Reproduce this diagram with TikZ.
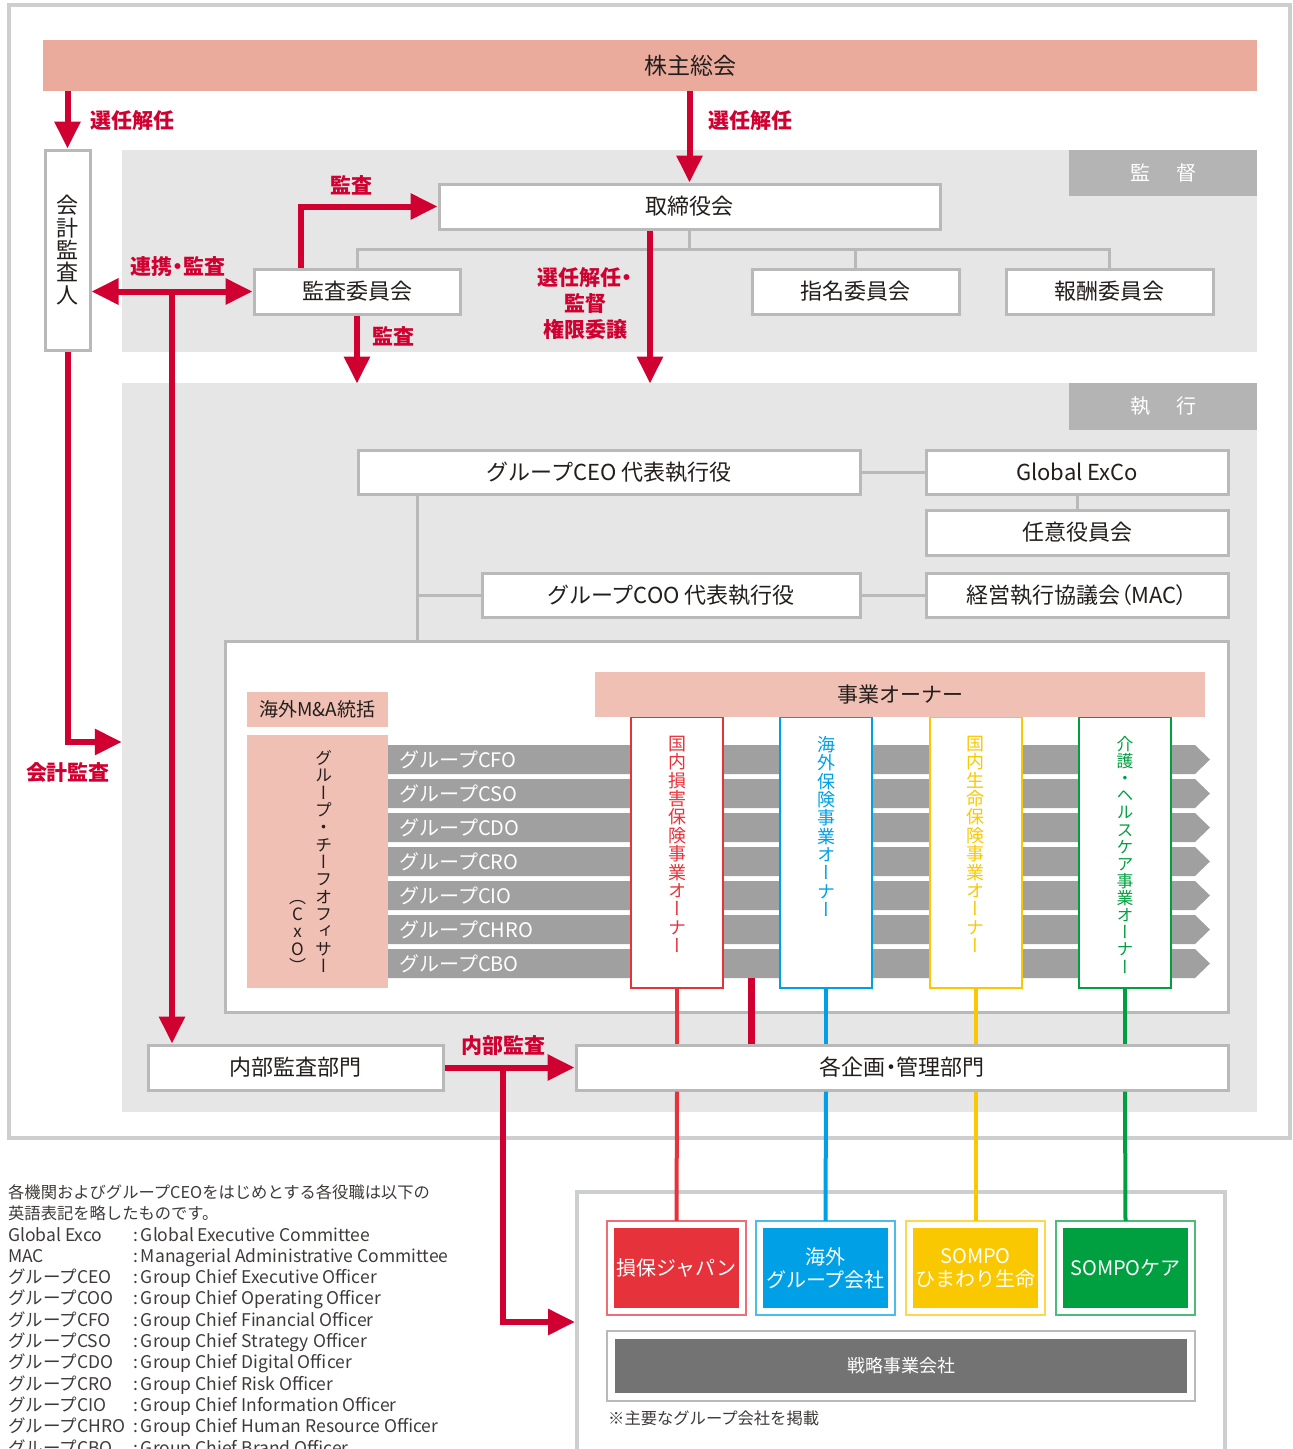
\documentclass[tikz,border=0pt]{standalone}
\usepackage{fontspec}
\setmainfont{Noto Sans CJK JP}
\newfontfamily\vfont[RawFeature=+vert]{Noto Sans CJK JP}
\newfontfamily\pfont[RawFeature=+palt]{Noto Sans CJK JP}
\usetikzlibrary{arrows.meta}

\definecolor{ared}{RGB}{208,0,48}
\definecolor{gmsalmon}{RGB}{234,171,157}
\definecolor{pinkfill}{RGB}{240,192,181}
\definecolor{regiongray}{RGB}{230,230,230}
\definecolor{tabgray}{RGB}{180,180,180}
\definecolor{boxgray}{RGB}{185,185,185}
\definecolor{framegray}{RGB}{205,206,207}
\definecolor{bargray}{RGB}{160,160,160}
\definecolor{stratgray}{RGB}{115,115,115}
\definecolor{ored}{RGB}{230,50,58}
\definecolor{oblue}{RGB}{0,160,230}
\definecolor{oyellow}{RGB}{250,200,0}
\definecolor{ogreen}{RGB}{0,160,64}
\definecolor{textgray}{RGB}{35,30,28}
\definecolor{notegray}{RGB}{62,58,57}

% vertical (tategaki) stack of characters
\makeatletter
\def\vst@end{\vst@end}
\def\vst@ck#1{\ifx#1\vst@end\else\hbox to 1em{\hss#1\hss}\expandafter\vst@ck\fi}
\newcommand\vstack[1]{\vbox{\vfont\baselineskip=1.02em\lineskiplimit=-2em\lineskip=0pt\vst@ck#1\vst@end}}
\makeatother

\tikzset{
  box/.style={draw=boxgray, line width=3pt, fill=white, inner sep=0pt, text=textgray, font=\fontsize{22}{26}\selectfont},
  region/.style={fill=regiongray, inner sep=0pt},
  tab/.style={fill=tabgray, inner sep=0pt, text=white, minimum width=188pt, font=\fontsize{20}{24}\selectfont},
  tree/.style={draw=boxgray, line width=3pt},
  redarrow/.style={draw=ared, line width=6pt, ->},
  redlbl/.style={text=ared, inner sep=0pt, align=center, font=\fontsize{21}{26}\selectfont\pfont\bfseries},
  pinkbox/.style={fill=pinkfill, inner sep=0pt, text=textgray},
  owner/.style={draw=#1, line width=2pt, fill=white, minimum width=92pt, minimum height=271pt, inner sep=0pt},
  ownlbl/.style={text=#1, inner sep=0pt, anchor=north, font=\fontsize{18}{18}\selectfont},
  ownline/.style={draw=#1, line width=4pt},
  bartext/.style={text=white, inner sep=0pt, anchor=west, font=\fontsize{20}{24}\selectfont},
  comp/.style={fill=#1, text=white, minimum width=125pt, minimum height=80pt, inner sep=0pt, align=center, font=\fontsize{20}{23}\selectfont},
  note/.style={text=notegray, inner sep=0pt, anchor=base west, font=\fontsize{16.3}{21}\selectfont},
  notetab/.style={note, font=\fontsize{17.5}{21}\selectfont},
}

\begin{document}
\begin{tikzpicture}[x=1pt, y=-1pt, >={Triangle[length=27pt,width=25pt]}]
        \useasboundingbox (0,0) rectangle (1293,1449);

        % ==== OUTER FRAME ====
        \draw[framegray, line width=4pt] (9,5) rectangle (1290,1138);

        % ==== GENERAL MEETING ====
        \node[fill=gmsalmon, minimum width=1214pt, minimum height=51pt, inner sep=0pt, text=textgray, font=\fontsize{23}{26}\selectfont] (gm) at (650,65.5) {\hspace*{80pt}株主総会};

        % ==== SUPERVISION ====
        \node[region, minimum width=1135pt, minimum height=202pt] (sup) at (689.5,251) {};
        \node[tab, minimum height=46pt] (suptab) at (1163,173) {監\hspace{26pt}督};
        \node[box, minimum width=501pt, minimum height=45pt] (board) at (689.5,206.5) {取締役会};
        \node[box, minimum width=206pt, minimum height=45pt] (acom) at (357,291.5) {監査委員会};
        \node[box, minimum width=207pt, minimum height=45pt] (ncom) at (855.5,291.5) {指名委員会};
        \node[box, minimum width=207pt, minimum height=45pt] (rcom) at (1109.5,291.5) {報酬委員会};
        \node[box, minimum width=45pt, minimum height=200pt] (aud) at (67.5,250) {\vstack{会計監査人}};

        \coordinate (tj) at (689.5,249);
        \draw[tree] (board.south) -- (tj);
        \draw[tree] (acom.north) |- (tj) -| (rcom.north);
        \draw[tree] (ncom.north) -- (ncom.north |- tj);

        % ==== EXECUTION ====
        \node[region, minimum width=1135pt, minimum height=729pt] (ex) at (689.5,747.5) {};
        \node[tab, minimum height=47pt] (extab) at (1163,406.5) {執\hspace{26pt}行};
        \node[box, minimum width=502pt, minimum height=44pt] (ceo) at (609,472) {グループCEO 代表執行役};
        \node[box, minimum width=302pt, minimum height=44pt] (gex) at (1077,472) {Global ExCo};
        \node[box, minimum width=302pt, minimum height=45pt] (nin) at (1077,532.5) {任意役員会};
        \node[box, minimum width=378pt, minimum height=44pt] (coo) at (671,595) {グループCOO 代表執行役};
        \node[box, minimum width=302pt, minimum height=44pt] (mac) at (1077,595) {\pfont 経営執行協議会（MAC）};
        \node[box, minimum width=1003pt, minimum height=371pt] (inner) at (726.5,826.5) {};

        \coordinate (trunk) at ([xshift=-192pt]ceo.south);
        \draw[tree] (ceo.east) -- (gex.west);
        \draw[tree] (gex.south) -- (nin.north);
        \draw[tree] (coo.east) -- (mac.west);
        \draw[tree] (trunk) -- (trunk |- inner.north);
        \draw[tree] (coo.west) -- (coo.west -| trunk);

        % ==== CxO ====
        \node[pinkbox, minimum width=141pt, minimum height=35pt, font=\fontsize{19}{22}\selectfont] (mna) at (317.5,709.5) {海外M\&A統括};
        \node[pinkbox, minimum width=141pt, minimum height=253pt, font=\fontsize{17}{17}\selectfont] (cxo) at (317.5,861.5) {\vstack{（CxO）}\hspace{9pt}\vstack{グループ・チーフオフィサー}\hspace*{14pt}};

        \foreach \name [count=\i from 0] in {CFO,CSO,CDO,CRO,CIO,CHRO,CBO}{
            \pgfmathsetmacro\ty{745+34*\i}
            \fill[bargray] (388,\ty) -- ++(807,0) -- ++(15,14.5) -- ++(-15,14.5) -- ++(-807,0) -- cycle;
            \node[bartext] (bar\name) at (399,\ty+14.5) {グループ\name};
        }
        \coordinate (cxobot) at (751,978);

        % ==== BUSINESS OWNERS ====
        \node[owner=ored] (own1) at (677,852.5) {};
        \node[owner=oblue] (own2) at (826,852.5) {};
        \node[owner=oyellow] (own3) at (975.5,852.5) {};
        \node[owner=ogreen] (own4) at (1125,852.5) {};
        \node[pinkbox, minimum width=610pt, minimum height=45pt, font=\fontsize{21}{24}\selectfont] (biz) at (900,694.5) {事業オーナー};
        \node[ownlbl=ored] (own1t) at ([yshift=-20pt]own1.north) {\vstack{国内損害保険事業オーナー}};
        \node[ownlbl=oblue] (own2t) at ([yshift=-20pt]own2.north) {\vstack{海外保険事業オーナー}};
        \node[ownlbl=oyellow] (own3t) at ([yshift=-20pt]own3.north) {\vstack{国内生命保険事業オーナー}};
        \node[ownlbl=ogreen, font=\fontsize{16.8}{17}\selectfont] (own4t) at ([yshift=-20pt]own4.north) {\vstack{介護・ヘルスケア事業オーナー}};

        % ==== DEPARTMENTS ====
        \node[box, minimum width=295pt, minimum height=45pt] (ia) at (295.5,1067.5) {内部監査部門};
        \node[box, minimum width=652pt, minimum height=45pt] (pc) at (902,1067.5) {\pfont 各企画・管理部門};

        % ==== GROUP COMPANIES ====
        \node[draw=framegray, line width=4pt, fill=white, minimum width=648pt, minimum height=260pt] (gf) at (901,1322) {};
        \foreach \k/\c/\txt/\cx in {1/ored/損保ジャパン/676.5, 2/oblue/{海外\\グループ会社}/825.5, 3/oyellow/{SOMPO\\ひまわり生命}/975.5, 4/ogreen/SOMPOケア/1125.5}{
            \node[comp=\c] (comp\k) at (\cx,1268) {\txt};
            \draw[\c!70, line width=2pt] ([shift={(-7pt,7pt)}]comp\k.north west) rectangle ([shift={(7pt,-7pt)}]comp\k.south east);
        }
        \node[fill=stratgray, text=white, minimum width=572pt, minimum height=54pt, inner sep=0pt, font=\fontsize{18}{22}\selectfont] (strat) at (901,1366) {戦略事業会社};
        \draw[boxgray, line width=2.5pt] ([shift={(-8pt,8pt)}]strat.north west) rectangle ([shift={(8pt,-8pt)}]strat.south east);
        \node[note] (gnote) at (608,1424) {※主要なグループ会社を掲載};

        % ==== OWNER LINES ====
        \foreach \k/\c in {1/ored,2/oblue,3/oyellow,4/ogreen}{
            \draw[ownline=\c] (own\k.south) -- (own\k.south |- pc.north);
            \draw[ownline=\c] (own\k.south |- pc.south) -- ([yshift=7pt]comp\k.north);
        }
        \draw[ared, line width=7pt] (cxobot) -- (cxobot |- pc.north);

        % ==== RED ARROWS ====
        \draw[redarrow] (aud.north |- gm.south) -- (aud.north);
        \draw[redarrow] (board.north |- gm.south) -- (board.north);
        \draw[redarrow] ([xshift=-56pt]acom.north) |- (board.west);
        \draw[redarrow, <->] (aud.east |- acom.west) -- (acom.west);
        \coordinate (iav) at (172,291.5);
        \draw[redarrow] (iav) -- (iav |- ia.north);
        \draw[redarrow] (acom.south) -- ++(0,68);
        \draw[redarrow] ([xshift=-39.5pt]board.south) -- ++(0,153);
        \draw[redarrow] (aud.south) |- ([yshift=5.5pt]ex.west);
        \draw[redarrow] (ia.east) -- (pc.west);
        \coordinate (iaj) at (503,1067.5);
        \draw[redarrow] (iaj) |- (gf.west);

        % ==== RED LABELS ====
        \node[redlbl] (lsel1) at (132,121) {選任解任};
        \node[redlbl] (lsel2) at (750,121) {選任解任};
        \node[redlbl] (lkan1) at (351,185) {監査};
        \node[redlbl] (lren) at (178,267) {連携・監査};
        \node[redlbl] (lkan2) at (393,336) {監査};
        \node[redlbl] (linin) at (585,304) {選任解任・\\監督\\権限委譲};
        \node[redlbl] (lkai) at (68,773) {会計監査};
        \node[redlbl] (lnai) at (503,1046) {内部監査};

        % ==== NOTES ====
        \node[note] (nh1) at (8,1198) {各機関およびグループCEOをはじめとする各役職は以下の};
        \node[note] (nh2) at (8,1219) {英語表記を略したものです。};
        \foreach \ab/\full [count=\i from 0] in {Global Exco/Global Executive Committee, MAC/Managerial Administrative Committee, グループCEO/Group Chief Executive Officer, グループCOO/Group Chief Operating Officer, グループCFO/Group Chief Financial Officer, グループCSO/Group Chief Strategy Officer, グループCDO/Group Chief Digital Officer, グループCRO/Group Chief Risk Officer, グループCIO/Group Chief Information Officer, グループCHRO/Group Chief Human Resource Officer, グループCBO/Group Chief Brand Officer}{
            \node[notetab] (ab\i) at (8,1241+21.3*\i) {\ab};
            \node[notetab] (fu\i) at (133,1241+21.3*\i) {:\,\full};
        }

    \end{tikzpicture}
\end{document}
